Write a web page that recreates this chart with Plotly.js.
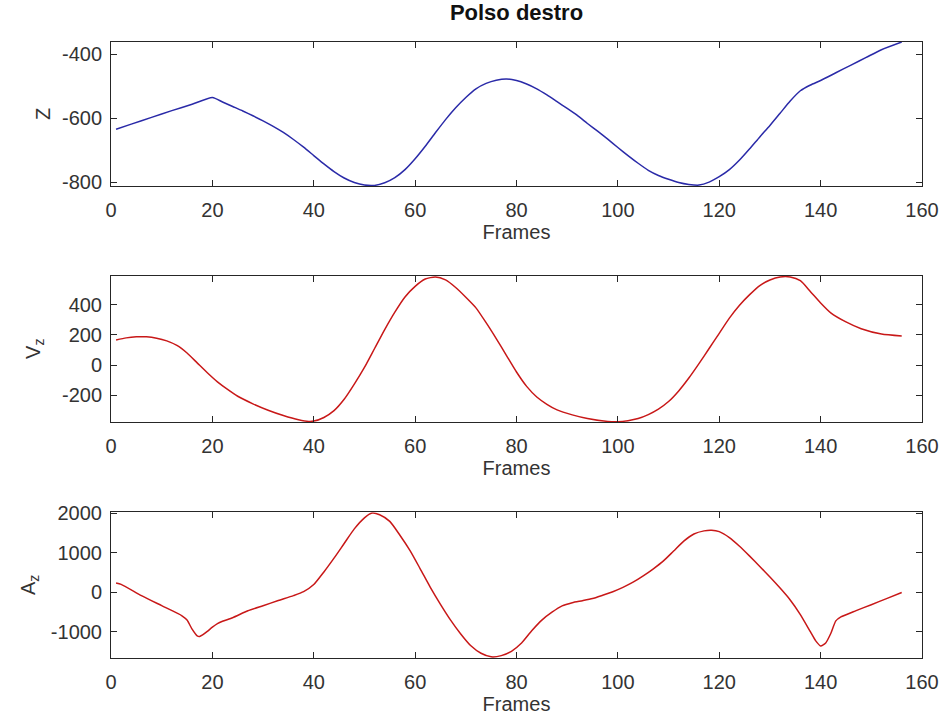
<!DOCTYPE html>
<html>
<head>
<meta charset="utf-8">
<script src="https://cdn.plot.ly/plotly-3.0.1.min.js"></script>
<style>
  html, body { margin: 0; padding: 0; background: #fff; }
  #chart { width: 943px; height: 720px; }
</style>
</head>
<body>
<div id="chart"></div>
<script>
// Right wrist (polso destro): vertical position Z, velocity Vz and acceleration Az per frame
const zFrames = [1, 4, 8, 12, 16, 20, 22, 24, 26, 28, 30, 32, 34, 36, 38, 40, 42, 44, 46, 48,
                 50, 52, 54, 56, 58, 60, 62, 64, 66, 68, 70, 72, 74, 76, 78, 80, 82, 84, 86, 88,
                 90, 92, 94, 96, 98, 100, 102, 104, 106, 108, 110, 112, 114, 116, 118, 120, 122, 124, 126, 128,
                 130, 132, 134, 136, 138, 140, 143, 146, 149, 152, 156];
const zValues = [-634, -618, -597, -576, -556, -535, -549, -563, -577, -592, -608, -625, -644, -666, -690, -716, -742, -766, -786, -800,
                 -808, -809, -801, -785, -760, -726, -687, -645, -604, -567, -535, -508, -491, -481, -477, -482, -493, -508, -527, -548,
                 -569, -591, -616, -640, -665, -691, -716, -740, -762, -778, -790, -800, -806, -808, -799, -782, -760, -730, -695, -658,
                 -622, -584, -546, -514, -496, -482, -458, -434, -410, -386, -362];

const vFrames = [1, 3, 5, 7, 9, 11, 13, 15, 17, 19, 21, 23, 25, 28, 31, 34, 37, 39, 40, 42,
                 44, 46, 48, 50, 52, 54, 56, 58, 60, 62, 64, 66, 68, 70, 72, 74, 76, 78, 80, 82,
                 84, 86, 88, 91, 94, 98, 100, 102, 104, 106, 108, 110, 112, 114, 116, 118, 120, 122, 124, 126,
                 128, 130, 132, 134, 136, 138, 140, 142, 145, 148, 152, 156];
const vValues = [166, 180, 187, 187, 178, 160, 130, 80, 15, -50, -110, -160, -205, -255, -297, -332, -360, -371, -369, -345,
                 -300, -225, -125, -15, 110, 235, 350, 450, 520, 568, 582, 562, 512, 448, 378, 280, 175, 65, -45, -140,
                 -210, -258, -295, -328, -352, -371, -373, -366, -352, -326, -290, -240, -170, -85, 10, 110, 210, 310, 395, 465,
                 525, 562, 582, 582, 557, 485, 410, 345, 285, 240, 205, 192];

const aFrames = [1, 2, 6, 10, 14, 15, 16, 17, 17.5, 18, 19, 20, 21, 22, 24, 27, 30, 33, 36, 38,
                 40, 42, 44, 46, 48, 50, 51.5, 53, 55, 57, 59, 61, 63, 65, 67, 69, 71, 73, 75, 77,
                 79, 81, 83, 85, 87, 89, 91, 93, 95, 97, 99, 101, 103, 105, 107, 109, 111, 113, 115, 117,
                 118.5, 120, 122, 124, 126, 128, 130, 132, 134, 136, 138, 139, 140, 141, 142, 143, 144, 147, 150, 153,
                 156];
const aValues = [240, 205, -80, -335, -590, -700, -930, -1100, -1115, -1080, -985, -880, -790, -730, -640, -465, -335, -205, -80, 20,
                 200, 520, 870, 1240, 1610, 1890, 2010, 1970, 1800, 1450, 1060, 600, 130, -300, -700, -1050, -1350, -1540, -1630, -1600,
                 -1490, -1280, -970, -700, -500, -340, -260, -210, -155, -70, 20, 130, 260, 420, 600, 800, 1050, 1300, 1480, 1560,
                 1575, 1540, 1390, 1170, 920, 660, 390, 110, -190, -560, -1000, -1220, -1355, -1280, -1040, -720, -620, -460, -310, -155,
                 0];

const xTicks = [0, 20, 40, 60, 80, 100, 120, 140, 160];
const zTicks = [-800, -600, -400];
const vTicks = [-200, 0, 200, 400];
const aTicks = [-1000, 0, 1000, 2000];

const textColor = '#333333';
const axisColor = '#262626';
const fontFamily = '"Liberation Sans", Arial, Helvetica, sans-serif';
const labelFont = {family: fontFamily, size: 20, color: textColor};

function xAxis(anchor) {
  return {
    anchor: anchor,
    range: [0, 160],
    tickvals: xTicks,
    ticktext: xTicks.map(String),
    ticks: 'inside', ticklen: 6, tickwidth: 1, tickcolor: axisColor,
    showline: true, linecolor: axisColor, linewidth: 1,
    mirror: 'allticks',
    showgrid: false, zeroline: false,
    ticklabelstandoff: 6,
    tickfont: labelFont,
    title: {text: 'Frames', standoff: 1, font: labelFont}
  };
}

function yAxis(anchor, domain, range, ticks) {
  return {
    anchor: anchor,
    domain: domain,
    range: range,
    tickvals: ticks,
    ticktext: ticks.map(v => String(v)),
    ticks: 'inside', ticklen: 6, tickwidth: 1, tickcolor: axisColor,
    showline: true, linecolor: axisColor, linewidth: 1,
    mirror: 'allticks',
    showgrid: false, zeroline: false,
    ticklabelstandoff: 4,
    tickfont: labelFont
  };
}

// y-axis labels placed as rotated annotations left of each panel
function yLabel(text, x, y) {
  return {
    text: text, xref: 'paper', yref: 'paper', x: x, y: y,
    xanchor: 'center', yanchor: 'middle', textangle: -90,
    showarrow: false, font: labelFont
  };
}

const lineStyle = (color) => ({color: color, width: 1.5, shape: 'spline', smoothing: 0.6});

const traces = [
  {x: zFrames, y: zValues, xaxis: 'x', yaxis: 'y', type: 'scatter', mode: 'lines', line: lineStyle('#2a2aa8')},
  {x: vFrames, y: vValues, xaxis: 'x2', yaxis: 'y2', type: 'scatter', mode: 'lines', line: lineStyle('#c81818')},
  {x: aFrames, y: aValues, xaxis: 'x3', yaxis: 'y3', type: 'scatter', mode: 'lines', line: lineStyle('#c81818')}
];

const layout = {
  width: 943, height: 720,
  margin: {l: 111, r: 21, t: 42, b: 62},
  paper_bgcolor: '#ffffff', plot_bgcolor: '#ffffff',
  showlegend: false,
  title: {
    text: '<b>Polso destro</b>',
    font: {family: fontFamily, size: 22, color: '#111111'},
    xref: 'paper', x: 0.5, xanchor: 'center',
    yref: 'container', y: 0.983, yanchor: 'middle'
  },
  xaxis: xAxis('y'),
  yaxis: yAxis('x', [0.7662, 1.0], [-811, -362], zTicks),
  xaxis2: xAxis('y2'),
  yaxis2: yAxis('x2', [0.3831, 0.6206], [-375, 590], vTicks),
  xaxis3: xAxis('y3'),
  yaxis3: yAxis('x3', [0.0, 0.2365], [-1660, 2030], aTicks),
  annotations: [
    yLabel('Z', -0.0838, 0.8831),
    yLabel('V<sub>z</sub>', -0.0937, 0.5018),
    yLabel('A<sub>z</sub>', -0.1010, 0.1185)
  ]
};

Plotly.newPlot('chart', traces, layout, {staticPlot: true, displayModeBar: false});
</script>
</body>
</html>
